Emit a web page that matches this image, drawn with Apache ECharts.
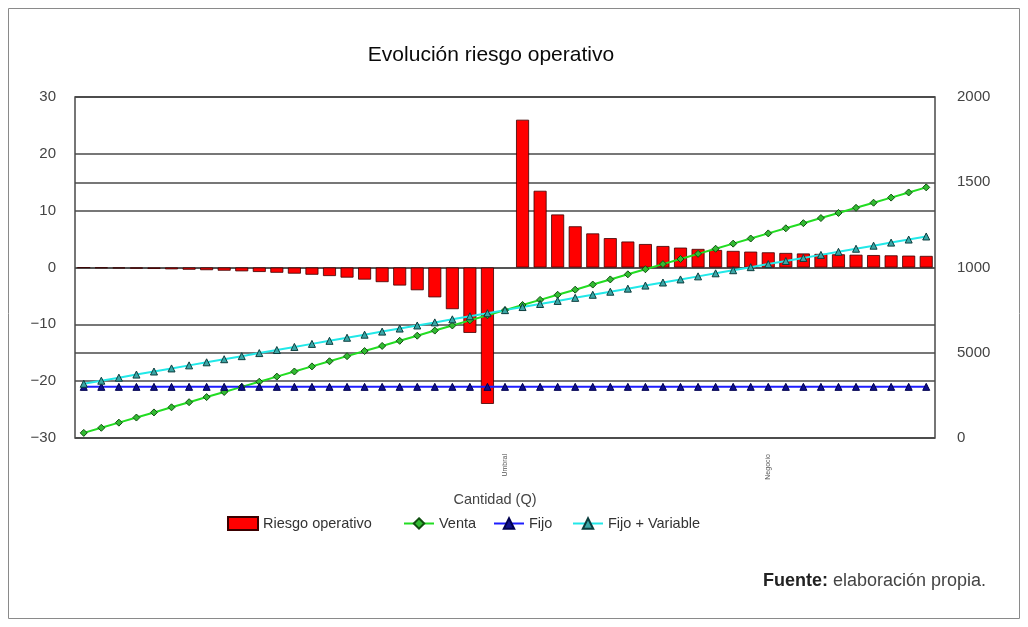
<!DOCTYPE html>
<html>
<head>
<meta charset="utf-8">
<title>Evolución riesgo operativo</title>
<script src="https://cdn.jsdelivr.net/npm/echarts@6/dist/echarts.min.js"></script>
<style>
  html, body { margin: 0; padding: 0; background: #ffffff; }
  #chart { width: 1028px; height: 627px; }
</style>
</head>
<body>
<div id="chart"></div>
<script>
// Cantidad (Q) de 1 a 49 unidades
const cantidades = [1,2,3,4,5,6,7,8,9,10,11,12,13,14,15,16,17,18,19,20,21,22,23,24,25,
  26,27,28,29,30,31,32,33,34,35,36,37,38,39,40,41,42,43,44,45,46,47,48,49];

// Rótulos del eje de categorías (solo se marcan dos puntos)
const rotulosEje = ['','','','','','','','','','','','','','','','','','','','','','','','',
  'Umbral','','','','','','','','','','','','','','','Negocio','','','','','','','','',''];

// Riesgo operativo (eje izquierdo); en el umbral no hay valor
const riesgoOperativo = [-0.04,-0.09,-0.14,-0.19,-0.25,-0.32,-0.39,-0.47,-0.56,-0.67,
  -0.79,-0.92,-1.08,-1.27,-1.5,-1.78,-2.13,-2.57,-3.17,-4,-5.25,-7.33,-11.5,-24,null,
  26,13.5,9.33,7.25,6,5.17,4.57,4.13,3.78,3.5,3.27,3.08,2.92,2.79,2.67,2.56,2.47,2.39,
  2.32,2.25,2.19,2.14,2.09,2.04];

// Ingresos y costes (eje derecho)
const venta = [30,60,90,120,150,180,210,240,270,300,330,360,390,420,450,480,510,540,570,600,
  630,660,690,720,750,780,810,840,870,900,930,960,990,1020,1050,1080,1110,1140,1170,1200,
  1230,1260,1290,1320,1350,1380,1410,1440,1470];
const fijo = [300,300,300,300,300,300,300,300,300,300,300,300,300,300,300,300,300,300,300,300,
  300,300,300,300,300,300,300,300,300,300,300,300,300,300,300,300,300,300,300,300,
  300,300,300,300,300,300,300,300,300];
const fijoVariable = [318,336,354,372,390,408,426,444,462,480,498,516,534,552,570,588,606,624,
  642,660,678,696,714,732,750,768,786,804,822,840,858,876,894,912,930,948,966,984,1002,1020,
  1038,1056,1074,1092,1110,1128,1146,1164,1182];

// Rótulos de los ejes verticales
const ticksIzquierda = [-30,-20,-10,0,10,20,30];
const rotulosDerecha = ['0','5000','1000','1500','2000'];

const FUENTE = "'Liberation Sans', Arial, Helvetica, sans-serif";
const chart = echarts.init(document.getElementById('chart'), null, { renderer: 'canvas' });

// Una leyenda por serie, para situar cada entrada
const estiloLeyenda = { fontFamily: FUENTE, fontSize: 14.5, color: '#333' };
function leyenda(nombre, x, icono) {
  const l = {
    left: x, top: 516, itemWidth: 30, itemHeight: 13, padding: 0,
    textStyle: estiloLeyenda, data: [nombre]
  };
  if (icono) l.icon = icono;
  return l;
}

chart.setOption({
  backgroundColor: '#ffffff',
  animation: false,
  textStyle: { fontFamily: FUENTE },
  title: [
    {
      text: 'Evolución riesgo operativo',
      left: 486, top: 40, textAlign: 'center',
      textStyle: { fontFamily: FUENTE, fontSize: 21, fontWeight: 'normal', color: '#0a0a0a' }
    },
    {
      text: '{b|Fuente:} elaboración propia.',
      right: 37, top: 567,
      textStyle: {
        fontFamily: FUENTE, fontSize: 18, color: '#444', fontWeight: 'normal',
        rich: {
          b: { fontFamily: FUENTE, fontSize: 18, fontWeight: 'bold', color: '#222' }
        }
      }
    }
  ],
  graphic: [
    {
      type: 'rect', silent: true, z: -1,
      shape: { x: 8.5, y: 8.5, width: 1011, height: 610 },
      style: { fill: 'none', stroke: '#8a8a8a', lineWidth: 1 }
    }
  ],
  legend: [
    leyenda('Riesgo operativo', 227, 'rect'),
    leyenda('Venta', 403),
    leyenda('Fijo', 493),
    leyenda('Fijo + Variable', 572)
  ],
  grid: {
    left: 75, right: 93, top: 97, bottom: 189,
    show: true, borderColor: '#4a4a4a', borderWidth: 1.5, backgroundColor: 'transparent'
  },
  xAxis: {
    type: 'category',
    data: cantidades,
    boundaryGap: true,
    name: 'Cantidad (Q)',
    nameLocation: 'middle',
    nameGap: 54,
    nameTextStyle: { fontFamily: FUENTE, fontSize: 14.5, color: '#444', padding: [0, 20, 0, 0] },
    axisLine: { show: false },
    axisTick: { show: false },
    axisLabel: {
      interval: 0, rotate: 90, margin: 16,
      fontSize: 7, color: '#555', fontFamily: FUENTE,
      formatter: (v, i) => rotulosEje[i]
    }
  },
  yAxis: [
    {
      type: 'value',
      min: ticksIzquierda[0], max: ticksIzquierda[ticksIzquierda.length - 1], interval: 10,
      axisLine: { show: false },
      axisTick: { show: false },
      axisLabel: {
        margin: 19, fontSize: 15, color: '#444', fontFamily: FUENTE,
        formatter: (v) => String(v).replace('-', '\u2212')
      },
      splitLine: { show: true, lineStyle: { color: '#4a4a4a', width: 1.5 } }
    },
    {
      type: 'value',
      min: 0, max: 2000, interval: 500,
      position: 'right',
      axisLine: { show: false },
      axisTick: { show: false },
      axisLabel: {
        margin: 22, fontSize: 15, color: '#444', fontFamily: FUENTE,
        formatter: (v) => rotulosDerecha[Math.round(v / 500)]
      },
      splitLine: { show: true, lineStyle: { color: '#4a4a4a', width: 1.5 } }
    }
  ],
  series: [
    {
      name: 'Riesgo operativo',
      type: 'bar',
      yAxisIndex: 0,
      data: riesgoOperativo,
      barCategoryGap: '26%',
      itemStyle: { color: '#ff0000', borderColor: '#3a0000', borderWidth: 0.8 }
    },
    {
      name: 'Venta',
      type: 'line',
      yAxisIndex: 1,
      data: venta,
      symbol: 'diamond', symbolSize: 7,
      lineStyle: { color: '#22dd22', width: 2 },
      itemStyle: { color: '#33bb33', borderColor: '#0f4f0f', borderWidth: 1 }
    },
    {
      name: 'Fijo',
      type: 'line',
      yAxisIndex: 1,
      data: fijo,
      symbol: 'triangle', symbolSize: 7,
      lineStyle: { color: '#1e1eff', width: 2 },
      itemStyle: { color: '#10108a', borderColor: '#000050', borderWidth: 1 }
    },
    {
      name: 'Fijo + Variable',
      type: 'line',
      yAxisIndex: 1,
      data: fijoVariable,
      symbol: 'triangle', symbolSize: 7,
      lineStyle: { color: '#22e8e8', width: 2 },
      itemStyle: { color: '#3aa6a6', borderColor: '#0b3d3d', borderWidth: 1 }
    }
  ]
});
</script>
</body>
</html>
